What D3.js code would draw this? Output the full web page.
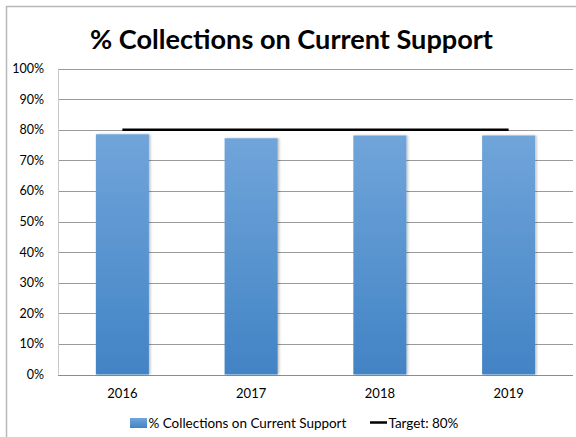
<!DOCTYPE html>
<html><head><meta charset="utf-8">
<script src="https://cdn.jsdelivr.net/npm/d3@7/dist/d3.min.js"></script>
<style>body{margin:0;background:#fff;} svg{display:block;font-family:Lato, "Open Sans", sans-serif;}</style>
</head><body>
<svg id="c" width="576" height="437"></svg>
<script>
const categories = ["2016", "2017", "2018", "2019"];
const collections = [0.785, 0.772, 0.781, 0.781];
const target = [0.80, 0.80, 0.80, 0.80];
const yTicks = [0, 0.1, 0.2, 0.3, 0.4, 0.5, 0.6, 0.7, 0.8, 0.9, 1.0];
const titleText = "% Collections on Current Support";
const legendLabels = ["% Collections on Current Support", "Target: 80%"];

const svg = d3.select("#c");
const W = 576, H = 437;
const m = {left: 58, right: 3, top: 68.5, bottom: 62.5};

// chart border
svg.append("path").attr("d", `M6.5,${H} L6.5,6.5 L${W},6.5`).attr("fill","none").attr("stroke","#b8b8b8").attr("stroke-width",1.5);

const defs = svg.append("defs");
const grad = defs.append("linearGradient").attr("id","bg").attr("x1",0).attr("y1",0).attr("x2",0).attr("y2",1);
grad.append("stop").attr("offset","0%").attr("stop-color","#70a5da");
grad.append("stop").attr("offset","100%").attr("stop-color","#4283c5");
const f = defs.append("filter").attr("id","sh").attr("x","-10%").attr("y","-10%").attr("width","130%").attr("height","120%");
f.append("feDropShadow").attr("dx",1.5).attr("dy",0).attr("stdDeviation",1).attr("flood-color","#000").attr("flood-opacity",0.25);

const x = d3.scaleBand().domain(categories).range([m.left, W - m.right]).paddingInner(0.588).paddingOuter(0.294);
const y = d3.scaleLinear().domain([0, 1]).range([H - m.bottom, m.top]);

// gridlines
svg.append("g").selectAll("line").data(yTicks).join("line")
  .attr("x1", m.left).attr("x2", W - m.right)
  .attr("y1", d => Math.round(y(d)) + 0.5).attr("y2", d => Math.round(y(d)) + 0.5)
  .attr("stroke", d => d === 0 ? "#8c8c8c" : "#9a9a9a").attr("stroke-width", 1);
svg.append("line").attr("x1", m.left + 0.5).attr("x2", m.left + 0.5).attr("y1", y(1)).attr("y2", y(0))
  .attr("stroke","#c8c8c8");

// y axis labels
const yAxis = d3.axisLeft(y).tickValues(yTicks).tickFormat(d3.format(".0%")).tickSize(0).tickPadding(14);
const ga = svg.append("g").attr("transform", `translate(${m.left},0)`).call(yAxis);
ga.select(".domain").remove();
ga.selectAll("text").attr("font-size", 12.5).attr("fill","#000").attr("font-family","Lato, sans-serif");

// bars
svg.append("g").selectAll("rect").data(categories).join("rect")
  .attr("x", d => x(d)).attr("width", x.bandwidth())
  .attr("y", (d,i) => y(collections[i])).attr("height", (d,i) => y(0) - y(collections[i]))
  .attr("fill", "url(#bg)").attr("filter","url(#sh)");

// target line
const line = d3.line().x(d => x(d[0]) + x.bandwidth()/2).y(d => y(d[1]));
svg.append("path").datum(categories.map((c,i) => [c, target[i]])).attr("d", line)
  .attr("fill","none").attr("stroke","#000").attr("stroke-width",2.5);

// x axis labels
const xAxis = d3.axisBottom(x).tickSize(0).tickPadding(14);
const gx = svg.append("g").attr("transform", `translate(0,${y(0)})`).call(xAxis);
gx.select(".domain").remove();
gx.selectAll("text").attr("font-size", 13).attr("fill","#000").attr("font-family","Lato, sans-serif");

// title
const t = svg.append("text").attr("x", 291.5).attr("y", 49).attr("text-anchor","middle")
  .attr("font-weight","bold").attr("font-size", 28).attr("fill","#000").text(titleText);
const tw = t.node().getComputedTextLength();
t.attr("font-size", 28 * 403 / tw);

// legend
const lg = svg.append("g");
lg.append("rect").attr("x",130).attr("y",418).attr("width",17).attr("height",10).attr("fill","url(#bg)");
const l1 = lg.append("text").attr("x",148.5).attr("y",427.5).attr("font-size",13).attr("fill","#000").text(legendLabels[0]);
const w1 = l1.node().getComputedTextLength();
const fs = 13 * 198 / w1;
l1.attr("font-size", fs);
lg.append("line").attr("x1",370).attr("x2",387).attr("y1",422.5).attr("y2",422.5).attr("stroke","#000").attr("stroke-width",2.5);
lg.append("text").attr("x",388.5).attr("y",427.5).attr("font-size",fs).attr("fill","#000").text(legendLabels[1]);
</script>
</body></html>
